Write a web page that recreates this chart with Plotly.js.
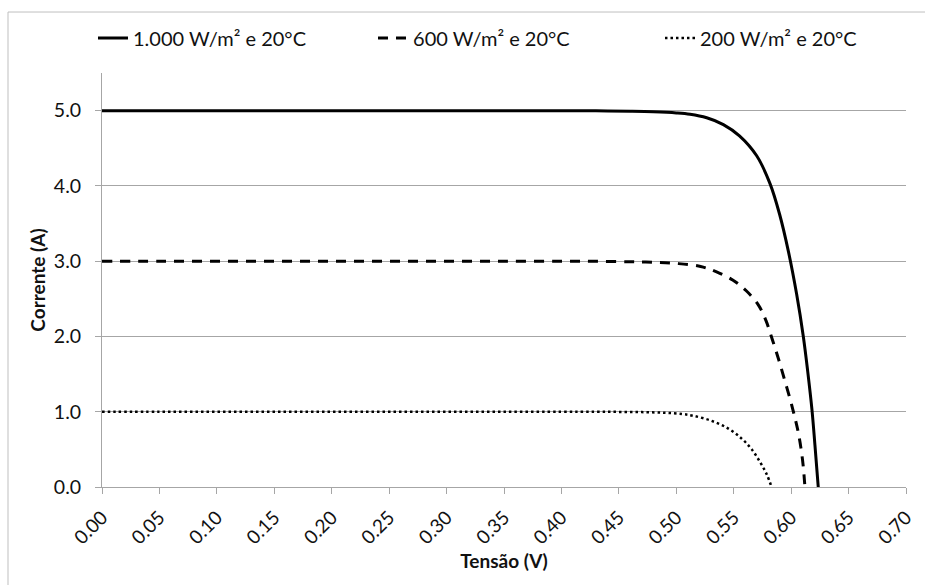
<!DOCTYPE html>
<html>
<head>
<meta charset="utf-8">
<script src="https://cdn.plot.ly/plotly-3.0.1.min.js"></script>
<style>
  html, body { margin: 0; padding: 0; background: #ffffff; }
  #chart { width: 925px; height: 585px; }
</style>
</head>
<body>
<div id="chart"></div>
<script>
// Series names
const seriesNames = ["1.000 W/m² e 20°C", "600 W/m² e 20°C", "200 W/m² e 20°C"];

// 1.000 W/m² e 20°C
const v1000 = [0.00, 0.05, 0.10, 0.15, 0.20, 0.25, 0.30, 0.35, 0.40, 0.43, 0.46, 0.48, 0.50, 0.512, 0.5265, 0.541, 0.555, 0.570, 0.5816, 0.590, 0.5976, 0.6048, 0.6106, 0.6144, 0.6181, 0.6207, 0.6236];
const i1000 = [5.00, 5.00, 5.00, 5.00, 5.00, 5.00, 5.00, 5.00, 5.00, 4.998, 4.992, 4.985, 4.97, 4.952, 4.905, 4.815, 4.665, 4.40, 4.03, 3.62, 3.13, 2.56, 2.00, 1.54, 1.03, 0.56, 0.00];

// 600 W/m² e 20°C
const v600 = [0.00, 0.05, 0.10, 0.15, 0.20, 0.25, 0.30, 0.35, 0.40, 0.43, 0.46, 0.48, 0.50, 0.5212, 0.5346, 0.5491, 0.5607, 0.5714, 0.5781, 0.5836, 0.5888, 0.5938, 0.5996, 0.6033, 0.6060, 0.6085, 0.6105, 0.6120];
const i600 = [3.00, 3.00, 3.00, 3.00, 3.00, 3.00, 3.00, 3.00, 3.00, 2.998, 2.992, 2.985, 2.97, 2.93, 2.86, 2.75, 2.61, 2.42, 2.21, 1.96, 1.71, 1.45, 1.14, 0.92, 0.74, 0.52, 0.28, 0.00];

// 200 W/m² e 20°C
const v200 = [0.00, 0.05, 0.10, 0.15, 0.20, 0.25, 0.30, 0.35, 0.40, 0.43, 0.45, 0.47, 0.49, 0.505, 0.515, 0.5308, 0.5453, 0.5569, 0.5656, 0.5729, 0.5787, 0.5830];
const i200 = [1.00, 1.00, 1.00, 1.00, 1.00, 1.00, 1.00, 1.00, 1.00, 0.999, 0.998, 0.995, 0.986, 0.97, 0.945, 0.878, 0.776, 0.643, 0.501, 0.332, 0.169, 0.00];

const FONT = "Lato, 'Open Sans', sans-serif";
const TXT = "#111111";
const GRID = "#a6a6a6";

const traces = [
  { x: v1000, y: i1000, name: seriesNames[0], type: "scatter", mode: "lines", legend: "legend",
    line: { color: "#000000", width: 3, shape: "spline", smoothing: 1 } },
  { x: v600, y: i600, name: seriesNames[1], type: "scatter", mode: "lines", legend: "legend2",
    line: { color: "#000000", width: 3, dash: "10px,8px", shape: "spline", smoothing: 1 } },
  { x: v200, y: i200, name: seriesNames[2], type: "scatter", mode: "lines", legend: "legend3",
    line: { color: "#000000", width: 2.5, dash: "2.5px,3px", shape: "spline", smoothing: 1 } }
];

function legendAt(x) {
  return {
    orientation: "h", x: x, xanchor: "left", y: 1.0845, yanchor: "middle",
    font: { family: FONT, size: 20, color: TXT },
    bgcolor: "rgba(0,0,0,0)", borderwidth: 0
  };
}

const layout = {
  width: 925, height: 585, autosize: false,
  margin: { l: 102, r: 19, t: 73, b: 98, pad: 0 },
  paper_bgcolor: "#ffffff", plot_bgcolor: "#ffffff",
  font: { family: FONT, color: TXT },
  showlegend: true,
  legend: legendAt(-0.0112),
  legend2: legendAt(0.3371),
  legend3: legendAt(0.694),
  xaxis: {
    range: [0, 0.70], tick0: 0, dtick: 0.05, tickformat: ".2f", tickangle: -45,
    ticks: "outside", ticklen: 6, tickcolor: GRID, tickwidth: 1,
    showline: true, linecolor: GRID, linewidth: 1,
    showgrid: false, zeroline: false, ticklabelstandoff: 5,
    tickfont: { family: FONT, size: 19, color: TXT },
    title: { text: "Tensão (V)", font: { family: FONT, size: 19, color: TXT, weight: "bold" }, standoff: 7 }
  },
  yaxis: {
    range: [0, 5.5], tick0: 0, dtick: 1, tickformat: ".1f",
    ticks: "outside", ticklen: 6, tickcolor: GRID, tickwidth: 1,
    showline: true, linecolor: GRID, linewidth: 1,
    showgrid: true, gridcolor: GRID, gridwidth: 1, zeroline: false, ticklabelstandoff: 10,
    tickfont: { family: FONT, size: 19.5, color: TXT },
    title: { text: "Corrente (A)", font: { family: FONT, size: 19, color: TXT, weight: "bold" }, standoff: 3 }
  },
  shapes: [
    { type: "rect", xref: "paper", yref: "paper",
      x0: -0.1169, x1: 1.03, y0: -0.25, y1: 1.1473,
      line: { color: "#bfbfbf", width: 1 }, fillcolor: "rgba(0,0,0,0)", layer: "below" }
  ]
};

Plotly.newPlot("chart", traces, layout, { staticPlot: true, displayModeBar: false });
</script>
</body>
</html>
